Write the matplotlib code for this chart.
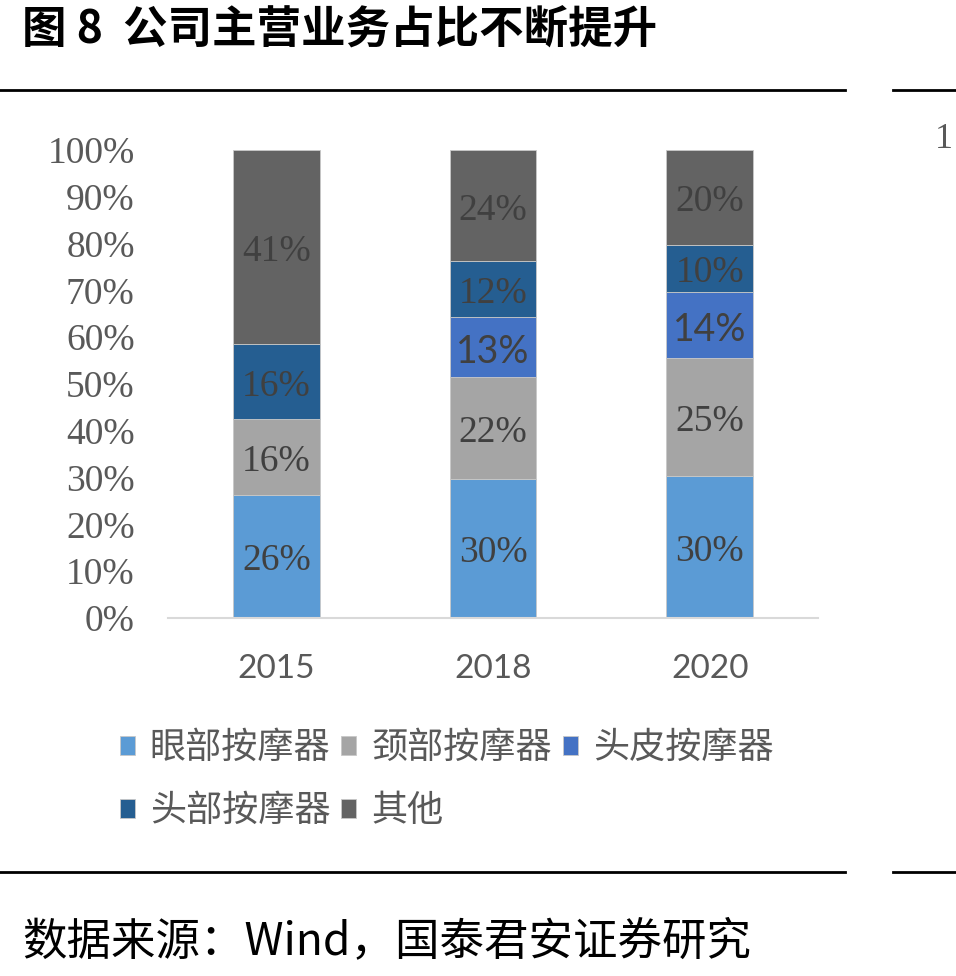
import matplotlib.pyplot as plt
import numpy as np

plt.rcParams['font.family'] = ['Noto Sans CJK SC', 'DejaVu Sans']

# data
years = ['2015', '2018', '2020']
series = ['眼部按摩器', '颈部按摩器', '头皮按摩器', '头部按摩器', '其他']
eye = [26, 30, 30]
neck = [16, 22, 25]
scalp = [0, 13, 14]
head = [16, 12, 10]
other = [41, 24, 20]
colors = ['#5B9BD5', '#A5A5A5', '#4472C4', '#255E91', '#636363']

values = np.array([eye, neck, scalp, head, other], dtype=float)
shares = values / values.sum(axis=0)  # 100% stacked

fig = plt.figure(figsize=(9.56, 9.76), dpi=100)
ax = fig.add_axes([0.1757, 0.3668, 0.68, 0.4795])

x = np.arange(len(years))
bottom = np.zeros(len(years))
handles = []
for i, name in enumerate(series):
    bars = ax.bar(x, shares[i], 0.4, bottom=bottom, color=colors[i],
                  edgecolor='#c8c8c8', linewidth=0.6, label=name)
    handles.append(bars)
    for j in range(len(years)):
        if values[i, j] == 0:
            continue
        fam = 'Lato' if name == '头皮按摩器' else 'Liberation Serif'
        ax.text(x[j], bottom[j] + shares[i, j] / 2 - 0.01, f'{int(values[i, j])}%',
                ha='center', va='center', fontsize=27, color='#404040',
                family=fam)
    bottom += shares[i]

ax.set_xlim(-0.5, 2.5)
ax.set_ylim(0, 1)
ax.set_yticks(np.linspace(0, 1, 11))
ax.set_yticklabels([f'{k}%' for k in range(0, 101, 10)],
                   family='Liberation Serif', fontsize=27, color='#595959')
ax.set_xticks(x)
ax.set_xticklabels(years, family='Lato', fontsize=24, color='#595959')
ax.tick_params(axis='y', length=0, pad=24)
ax.tick_params(axis='x', length=0, pad=26)
for s in ['top', 'right', 'left']:
    ax.spines[s].set_visible(False)
ax.spines['bottom'].set_color('#d9d9d9')
ax.spines['bottom'].set_linewidth(1.5)

# legend: row order A B C / D E with column-major filling
order = [0, 3, 1, 4, 2]
leg = fig.legend([handles[k] for k in order], [series[k] for k in order],
                 ncol=3, loc='upper left', bbox_to_anchor=(0.125, 0.252),
                 frameon=False, fontsize=26, handlelength=0.42,
                 handleheight=0.42, handletextpad=0.42, columnspacing=0.3,
                 labelspacing=0.75, borderpad=0, borderaxespad=0)
for t in leg.get_texts():
    t.set_color('#595959')

# title, rules and source
fig.text(0.023, 0.969, '图 8  公司主营业务占比不断提升', fontsize=32,
         fontweight='bold', color='black', va='center', ha='left')
fig.text(0.023, 0.036, '数据来源：Wind，国泰君安证券研究', fontsize=32,
         color='black', va='center', ha='left')
fig.text(0.978, 0.857, '1', family='Liberation Serif', fontsize=26,
         color='#595959', va='center', ha='left')

for yy in [1 - 90 / 976, 1 - 872 / 976]:
    fig.add_artist(plt.Line2D([0, 845 / 956], [yy, yy], color='black', lw=2))
    fig.add_artist(plt.Line2D([893 / 956, 1], [yy, yy], color='black', lw=2))

fig.savefig('out.png', dpi=100)
